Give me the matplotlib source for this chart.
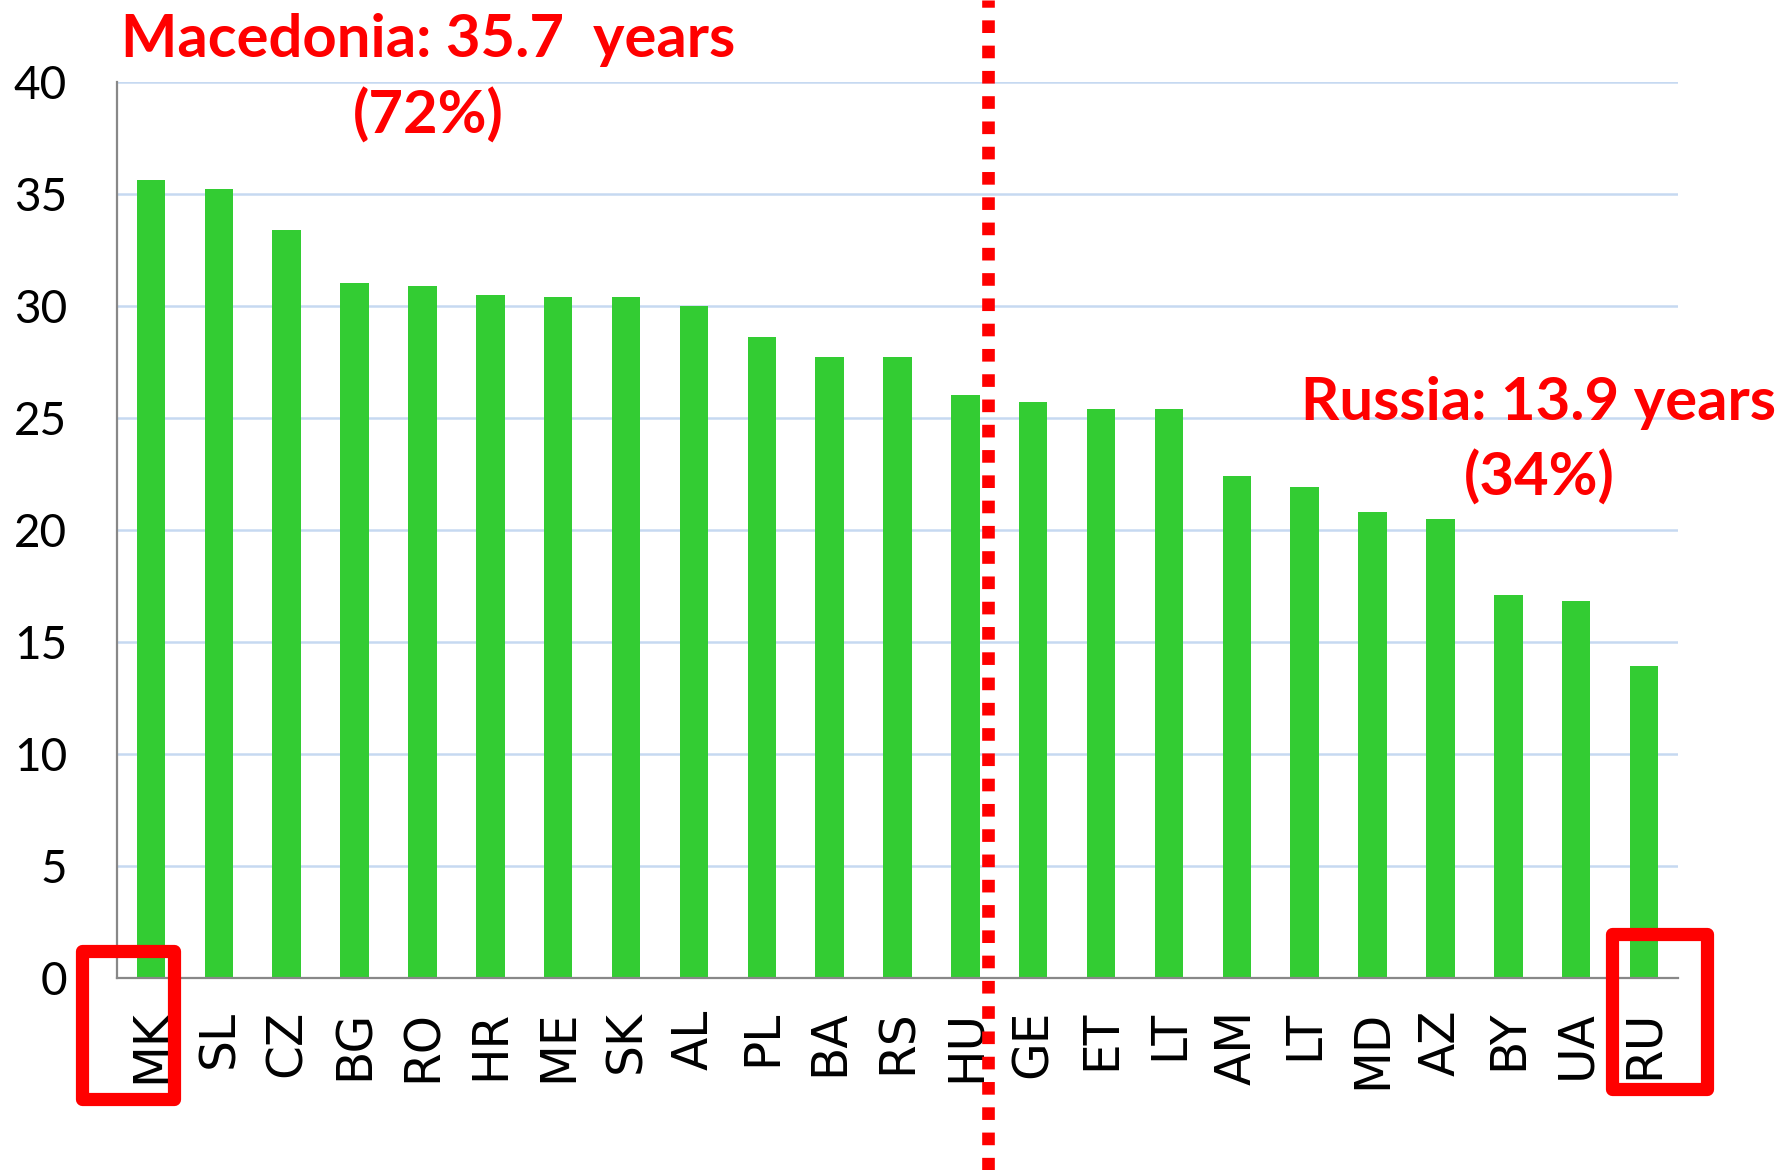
#Bar chart of years per country with two highlighted countries

import matplotlib
matplotlib.use('Agg')
import matplotlib.pyplot as plt
from matplotlib.lines import Line2D
from matplotlib.patches import Rectangle

countries = ['MK', 'SL', 'CZ', 'BG', 'RO', 'HR', 'ME', 'SK', 'AL', 'PL', 'BA', 'RS',
             'HU', 'GE', 'ET', 'LT', 'AM', 'LT', 'MD', 'AZ', 'BY', 'UA', 'RU']
years = [35.6, 35.2, 33.4, 31.0, 30.9, 30.5, 30.4, 30.4, 30.0, 28.6, 27.7, 27.7,
         26.0, 25.7, 25.4, 25.4, 22.4, 21.9, 20.8, 20.5, 17.1, 16.8, 13.9]
y_ticks = [0, 5, 10, 15, 20, 25, 30, 35, 40]

W, H = 1781, 1170

def fx(x):
	return x / W

def fy(y):
	#pixel rows count from the top
	return 1 - y / H

fig = plt.figure(figsize=(W / 100, H / 100), dpi=100)
ax = fig.add_axes([fx(117), fy(977.7), fx(1678) - fx(117), fy(81.7) - fy(977.7)])

pos = list(range(len(countries)))
ax.bar(pos, years, width=0.42, color='#33CC33', zorder=2)

ax.set_xlim(-0.5, len(countries) - 0.5)
ax.set_ylim(0, 40)
ax.set_yticks(y_ticks)
ax.set_xticks(pos)
ax.set_xticklabels(countries, rotation=90, fontsize=35, family='DejaVu Sans')
for lab in ax.get_yticklabels():
	lab.set_family('Lato')
ax.tick_params(axis='y', length=0, pad=36, labelsize=33)
ax.tick_params(axis='x', length=0, pad=23)

ax.yaxis.grid(True, color='#C6D9F1', linewidth=1.8, zorder=0)
ax.set_axisbelow(True)
for side in ['top', 'right']:
	ax.spines[side].set_visible(False)
for side in ['left', 'bottom']:
	ax.spines[side].set_color('#888888')
	ax.spines[side].set_linewidth(1.6)

#red dotted divider across the whole figure
fig.add_artist(Line2D([fx(988), fx(988)], [0, 1], color='red', linewidth=9.1,
	dashes=(1, 1), solid_capstyle='butt', dash_capstyle='butt'))

#boxes round the first and last labels
for x0, y0, x1, y1 in [(82, 951, 174, 1099), (1612, 934, 1707, 1089)]:
	fig.add_artist(Rectangle((fx(x0), fy(y1)), fx(x1) - fx(x0), fy(y0) - fy(y1),
		fill=False, edgecolor='red', linewidth=9.5, joinstyle='round'))

red_font = dict(color='red', fontweight='bold', family='Lato', fontsize=43)
fig.text(fx(428), fy(57), 'Macedonia: 35.7  years', ha='center', va='baseline', **red_font)
fig.text(fx(428), fy(134), '(72%)', ha='center', va='baseline', **red_font)
fig.text(fx(1539), fy(420), 'Russia: 13.9 years', ha='center', va='baseline', **red_font)
fig.text(fx(1539), fy(496), '(34%)', ha='center', va='baseline', **red_font)

plt.savefig('out.png', dpi=100)
